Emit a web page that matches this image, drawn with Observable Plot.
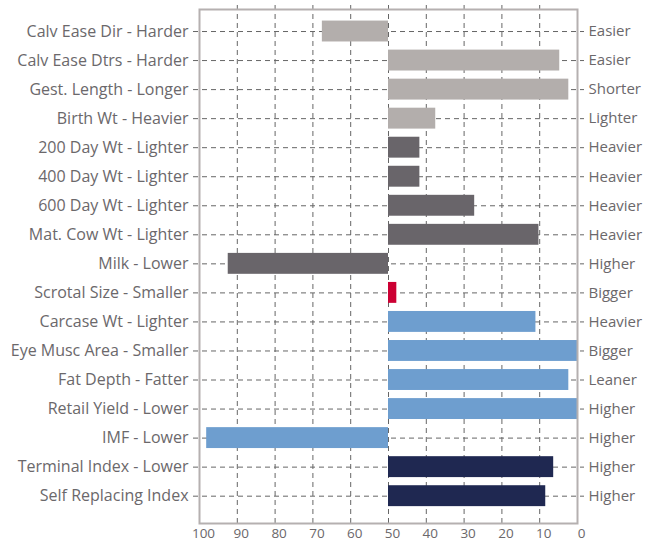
<!DOCTYPE html>
<html>
<head>
<meta charset="utf-8">
<script src="https://cdn.jsdelivr.net/npm/d3@7"></script>
<script src="https://cdn.jsdelivr.net/npm/@observablehq/plot@0.6"></script>
<style>
  html, body { margin: 0; padding: 0; background: #fff; }
  #chart svg { display: block; }
</style>
</head>
<body>
<div id="chart"></div>
<script>
const traits = [
  "Calv Ease Dir - Harder",
  "Calv Ease Dtrs - Harder",
  "Gest. Length - Longer",
  "Birth Wt - Heavier",
  "200 Day Wt - Lighter",
  "400 Day Wt - Lighter",
  "600 Day Wt - Lighter",
  "Mat. Cow Wt - Lighter",
  "Milk - Lower",
  "Scrotal Size - Smaller",
  "Carcase Wt - Lighter",
  "Eye Musc Area - Smaller",
  "Fat Depth - Fatter",
  "Retail Yield - Lower",
  "IMF - Lower",
  "Terminal Index - Lower",
  "Self Replacing Index"
];
const favourable = [
  "Easier", "Easier", "Shorter", "Lighter", "Heavier", "Heavier", "Heavier", "Heavier",
  "Higher", "Bigger", "Heavier", "Bigger", "Leaner", "Higher", "Higher", "Higher", "Higher"
];
const percentile = [67.5, 4.7, 2.3, 37.5, 41.7, 41.7, 27.2, 10.2, 92.4, 47.8, 11, 0, 2.3, 0, 98.1, 6.3, 8.4];
const groups = [
  "Calving", "Calving", "Calving", "Calving",
  "Growth", "Growth", "Growth", "Growth", "Growth",
  "Fertility",
  "Carcase", "Carcase", "Carcase", "Carcase", "Carcase",
  "Index", "Index"
];
const baseline = 50;
const xTicks = [100, 90, 80, 70, 60, 50, 40, 30, 20, 10, 0];
const gridTicks = [90, 80, 70, 60, 50, 40, 30, 20, 10];

const data = traits.map((t, i) => ({trait: t, right: favourable[i], value: percentile[i], group: groups[i]}));
const rightLabel = new Map(data.map(d => [d.trait, d.right]));

const textColor = "#6b686b";
const chart = Plot.plot({
  width: 645,
  height: 542,
  marginLeft: 199,
  marginRight: 68,
  marginTop: 9,
  marginBottom: 19,
  style: {fontFamily: "'Open Sans', sans-serif", fontSize: "14px", color: textColor, background: "#fff"},
  x: {domain: [100, 0], axis: null, label: null},
  y: {domain: traits, range: [16.5, 510.2], paddingInner: 0.28, paddingOuter: 0.14, round: false, axis: null, label: null},
  color: {
    domain: ["Calving", "Growth", "Fertility", "Carcase", "Index"],
    range: ["#b3aeac", "#69656a", "#cc0033", "#6e9ecf", "#1f2851"]
  },
  marks: [
    Plot.ruleX(gridTicks, {stroke: "#666", strokeWidth: 1, strokeDasharray: "5,4", insetTop: -4}),
    Plot.ruleY(traits, {y: d => d, stroke: "#666", strokeWidth: 1, strokeDasharray: "5,4", insetLeft: -6, insetRight: -7}),
    Plot.barX(data, {y: "trait", x1: baseline, x2: "value", fill: "group"}),
    Plot.frame({stroke: "#b5b0b0", strokeWidth: 2}),
    Plot.axisY({anchor: "left", label: null, tickSize: 0, tickPadding: 11, fontSize: 16, fill: textColor}),
    Plot.axisY({anchor: "right", label: null, tickSize: 0, tickPadding: 11, fontSize: 15, fill: textColor, tickFormat: d => rightLabel.get(d)}),
    Plot.axisX(xTicks, {anchor: "bottom", label: null, tickSize: 0, tickPadding: 5, fontSize: 13.5, fill: textColor, dx: 4})
  ]
});
document.getElementById("chart").appendChild(chart);
</script>
</body>
</html>
